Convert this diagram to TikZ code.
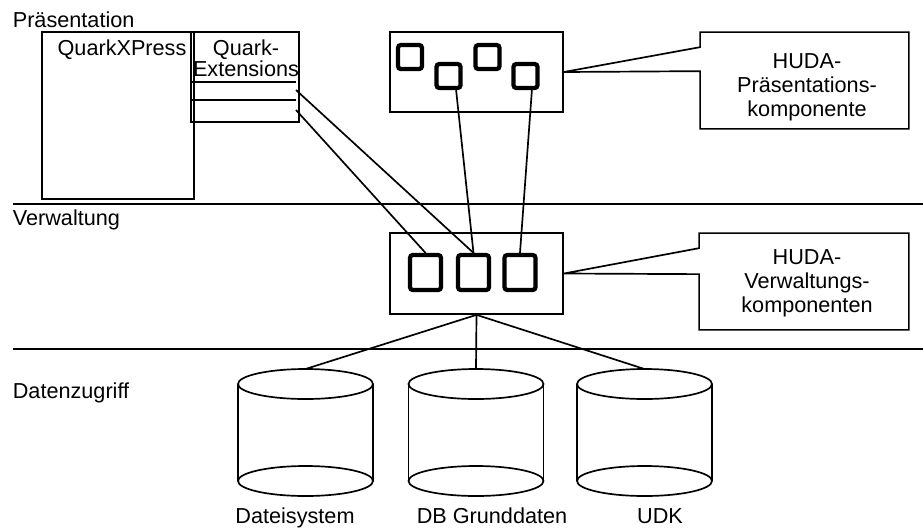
\documentclass[tikz,border=0pt]{standalone}
\usepackage{fontspec}
\setmainfont{Liberation Sans}
\usetikzlibrary{calc}
\begin{document}
\begin{tikzpicture}[x=0.025cm,y=-0.025cm,line width=1.2pt,
  font=\fontsize{15.4}{17}\selectfont,
  kasten/.style={draw,inner sep=0pt},
  modul/.style={draw,line width=3pt,rounded corners=2pt,inner sep=0pt},
  txt/.style={inner sep=0pt}]
\useasboundingbox (0,0) rectangle (923,529);
% Ebenen
\node[txt,anchor=base west] (ebPraes) at (12,27) {Präsentation};
\node[txt,anchor=base west] (ebVerw) at (12,225) {Verwaltung};
\node[txt,anchor=base west] (ebDaten) at (12,398) {Datenzugriff};
\draw (13,204) -- (923,204);
\draw (13,349) -- (923,349);
% QuarkXPress
\node[kasten,minimum width=3.8cm,minimum height=4.175cm] (qxp) at (118,115.5) {};
\node[txt,anchor=base] (qxpTxt) at (122,55) {QuarkXPress};
\node[kasten,minimum width=2.7cm,minimum height=2.25cm] (ext) at (245,77) {};
\node[txt,align=center,font=\fontsize{15.4}{13.5}\selectfont] (extTxt) at (246,58.5) {Quark-\\Extensions};
\draw (191,82) -- (296,82);
\draw (191,100) -- (296,100);
\coordinate (slotA) at (296,90);
\coordinate (slotB) at (296,110);
% HUDA-Praesentation
\node[kasten,minimum width=4.325cm,minimum height=2cm] (praesKomp) at (476.5,72) {};
\node[modul,minimum size=0.6cm] (p1) at (410,57) {};
\node[modul,minimum size=0.6cm] (p2) at (448.5,76) {};
\node[modul,minimum size=0.6cm] (p3) at (487.5,57) {};
\node[modul,minimum size=0.6cm] (p4) at (525.5,76) {};
\node[minimum width=5.175cm,minimum height=2.375cm] (callP) at (804.5,80.5) {};
\node[txt,align=center] (callPTxt) at (807,87) {HUDA-\\Präsentations-\\komponente};
\draw (praesKomp.east) -- ($(callP.north west)+(0,15)$) |- (callP.north east)
  |- (callP.south west) -- ($(callP.north west)+(0,39)$) -- cycle;
% HUDA-Verwaltung
\node[kasten,minimum width=4.325cm,minimum height=2.025cm] (verwKomp) at (476.5,273.5) {};
\node[modul,minimum width=0.775cm,minimum height=0.875cm] (v1) at (425.5,272.5) {};
\node[modul,minimum width=0.775cm,minimum height=0.875cm] (v2) at (473.5,272.5) {};
\node[modul,minimum width=0.775cm,minimum height=0.875cm] (v3) at (520,272.5) {};
\node[minimum width=5.2cm,minimum height=2.375cm] (callV) at (804,281.5) {};
\node[txt,align=center] (callVTxt) at (807,283.5) {HUDA-\\Verwaltungs-\\komponenten};
\draw (verwKomp.east) -- ($(callV.north west)+(0,15)$) |- (callV.north east)
  |- (callV.south west) -- ($(callV.north west)+(0,41)$) -- cycle;
% Verbindungen
\draw (slotA) -- (v2.north);
\draw (slotB) -- (v1.north);
\draw ([xshift=0.19cm]p2.south) -- (v2.north);
\draw ([xshift=0.16cm]p4.south) -- (v3.north);
% Datenbanken
\foreach \name/\cx in {dbA/305.5,dbB/476,dbC/644.5}{
  \coordinate (\name) at (\cx,369);
  \draw (\cx-67.5,384) -- (\cx-67.5,481) (\cx+67.5,384) -- (\cx+67.5,481);
  \draw (\cx,384) ellipse [x radius=67.5,y radius=15];
  \draw (\cx,481) ellipse [x radius=67.5,y radius=15];
}
\draw (verwKomp.south) -- (dbA);
\draw (verwKomp.south) -- (dbB);
\draw (verwKomp.south) -- (dbC);
\node[txt,anchor=base] (lblA) at (295,523) {Dateisystem};
\node[txt,anchor=base] (lblB) at (492,523) {DB Grunddaten};
\node[txt,anchor=base] (lblC) at (660,523) {UDK};
\end{tikzpicture}
\end{document}
